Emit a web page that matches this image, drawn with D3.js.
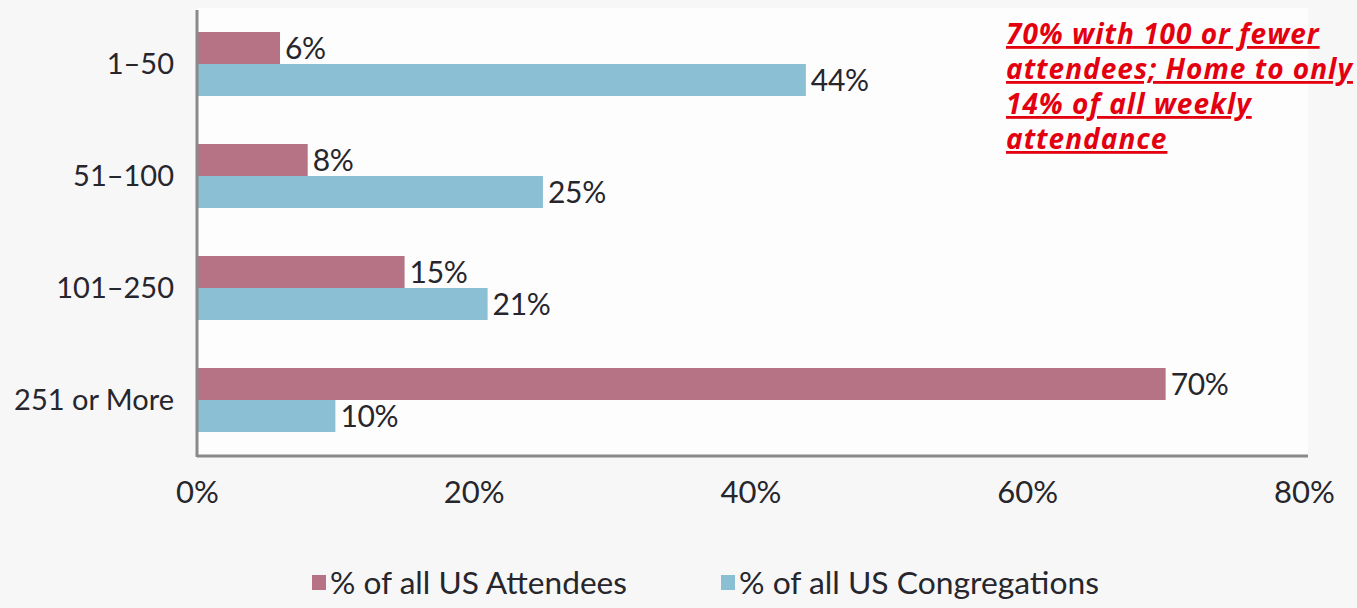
<!DOCTYPE html>
<html><head><meta charset="utf-8">
<script src="https://cdn.jsdelivr.net/npm/d3@7"></script>
<style>
html,body{margin:0;padding:0;background:#f7f7f7;}
svg{display:block;}
</style></head>
<body>
<svg id="chart" width="1357" height="608"></svg>
<script>
const categories = ["1–50", "51–100", "101–250", "251 or More"];
const attendees = [6, 8, 15, 70];
const congregations = [44, 25, 21, 10];
const seriesNames = ["% of all US Attendees", "% of all US Congregations"];
const xTicks = [0, 20, 40, 60, 80];
const noteLines = ["70% with 100 or fewer", "attendees; Home to only", "14% of all weekly", "attendance"];

const colors = ["#b57385", "#8bbfd4"];
const svg = d3.select("#chart");
const plotLeft = 197, plotRight = 1304, plotTop = 8, plotBottom = 456;

const x = d3.scaleLinear().domain([0, 80]).range([plotLeft, plotRight]);
const y0 = d3.scaleBand().domain(categories).range([plotTop, plotBottom]).paddingInner(0.4286).paddingOuter(0.2143);
const y1 = d3.scaleBand().domain([0, 1]).range([0, y0.bandwidth()]);

// plot area background
svg.append("rect").attr("x", plotLeft).attr("y", plotTop).attr("width", plotRight + 4 - plotLeft).attr("height", plotBottom - plotTop).attr("fill", "#fdfdfd");

const data = categories.map((c, i) => ({cat: c, vals: [attendees[i], congregations[i]]}));

const g = svg.selectAll("g.cat").data(data).join("g").attr("class", "cat")
  .attr("transform", d => `translate(0,${y0(d.cat)})`);

g.selectAll("rect").data(d => d.vals.map((v, k) => ({v, k}))).join("rect")
  .attr("x", x(0)).attr("y", d => y1(d.k)).attr("width", d => x(d.v) - x(0))
  .attr("height", y1.bandwidth()).attr("fill", d => colors[d.k]);

g.selectAll("text.val").data(d => d.vals.map((v, k) => ({v, k}))).join("text")
  .attr("class", "val")
  .attr("x", d => x(d.v) + 5).attr("y", d => y1(d.k) + y1.bandwidth() / 2)
  .attr("dy", "0.36em")
  .attr("font-family", "Lato").attr("font-size", 30).attr("fill", "#26262c")
  .attr("letter-spacing", -0.3)
  .text(d => d.v + "%");

// axes
const yAxis = d3.axisLeft(y0).tickSize(0).tickPadding(23);
const ya = svg.append("g").attr("transform", `translate(${plotLeft},0)`).call(yAxis);
ya.select(".domain").remove();
ya.selectAll("text").attr("font-family", "Lato").attr("font-size", 29).attr("fill", "#26262c").attr("dy", "0.36em");

const xAxis = d3.axisBottom(x).tickValues(xTicks).tickFormat(d => d + "%").tickSize(0).tickPadding(25);
const xa = svg.append("g").attr("transform", `translate(0,${plotBottom})`).call(xAxis);
xa.select(".domain").remove();
xa.selectAll("text").attr("font-family", "Lato").attr("font-size", 31).attr("fill", "#26262c");

svg.append("line").attr("x1", plotLeft).attr("x2", plotLeft).attr("y1", 10).attr("y2", plotBottom + 1)
  .attr("stroke", "#8a8a8a").attr("stroke-width", 3);
svg.append("line").attr("x1", plotLeft).attr("x2", 1308).attr("y1", plotBottom).attr("y2", plotBottom)
  .attr("stroke", "#8a8a8a").attr("stroke-width", 3);

// legend
const legX = [312, 721];
const legW = [297, 360];
const lg = svg.selectAll("g.leg").data(seriesNames).join("g").attr("class", "leg")
  .attr("transform", (d, i) => `translate(${legX[i]},0)`);
lg.append("rect").attr("x", 0).attr("y", 575).attr("width", 14).attr("height", 15).attr("fill", (d, i) => colors[i]);
lg.append("text").attr("x", 18).attr("y", 594).attr("font-family", "Lato").attr("font-size", 31)
  .attr("fill", "#26262c").attr("textLength", (d, i) => legW[i]).attr("lengthAdjust", "spacingAndGlyphs")
  .text(d => d);

// annotation
const note = svg.append("text").attr("font-family", "Open Sans").attr("font-weight", "bold")
  .attr("font-style", "italic").attr("font-size", 28).attr("fill", "#e3000f")
  .attr("letter-spacing", 1.0)
  .attr("text-decoration", "underline");
note.selectAll("tspan").data(noteLines).join("tspan")
  .attr("x", 1006).attr("y", (d, i) => 44 + i * 35).text(d => d);
</script>
</body></html>
